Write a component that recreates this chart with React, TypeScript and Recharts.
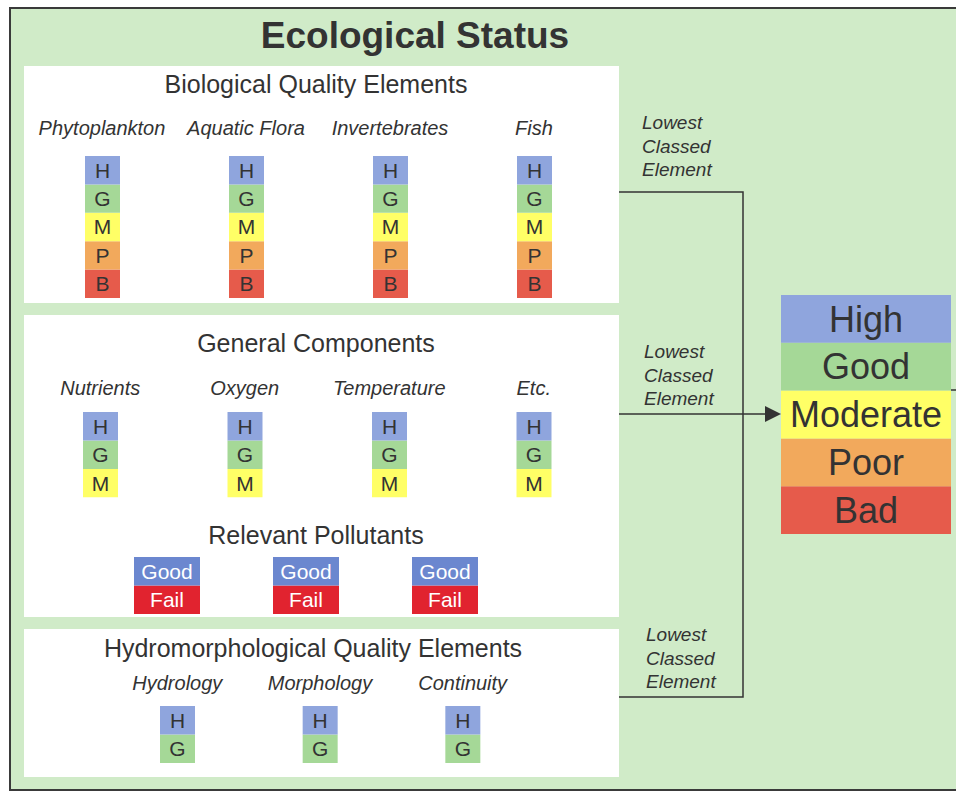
import React from "react";
import { BarChart, Bar, XAxis, YAxis, LabelList } from "recharts";

const FONT = '"Liberation Sans", Arial, Helvetica, sans-serif';
const INK = "#333333";

// text + categories
const title = "Ecological Status";
const bioHeading = "Biological Quality Elements";
const bioElements = ["Phytoplankton", "Aquatic Flora", "Invertebrates", "Fish"];
const bioClasses = ["H", "G", "M", "P", "B"];
const generalHeading = "General Components";
const generalComponents = ["Nutrients", "Oxygen", "Temperature", "Etc."];
const generalClasses = ["H", "G", "M"];
const pollutantHeading = "Relevant Pollutants";
const pollutants = ["Pollutant 1", "Pollutant 2", "Pollutant 3"];
const pollutantClasses = ["Good", "Fail"];
const hydroHeading = "Hydromorphological Quality Elements";
const hydroElements = ["Hydrology", "Morphology", "Continuity"];
const hydroClasses = ["H", "G"];
const statusCategory = ["Ecological Status"];
const statusClasses = ["High", "Good", "Moderate", "Poor", "Bad"];
const connectorText = ["Lowest", "Classed", "Element"];

// every class is one cell of the stack
const cellValue = 1;

const gradeColors = ["#8fa5dd", "#a5d897", "#ffff66", "#f2a95c", "#e65b4b"];
const pollutantColors = ["#6b87cf", "#e1232f"];

function unitRows(names: string[], classes: string[]) {
  return names.map((name) => {
    const row: Record<string, string | number> = { name };
    classes.forEach((c) => (row[c] = cellValue));
    return row;
  });
}

interface StackProps {
  names: string[];
  classes: string[];
  colors: string[];
  left: number;
  top: number;
  width: number;
  cellHeight: number;
  barSize?: number;
  axisHeight?: number;
  labelGap?: number;
  textColor?: string;
  fontSize?: number;
  gap?: number | string;
}

function GradeStack({
  names,
  classes,
  colors,
  left,
  top,
  width,
  cellHeight,
  barSize,
  axisHeight = 0,
  labelGap = 0,
  textColor = INK,
  fontSize = 21,
  gap = "10%",
}: StackProps) {
  const data = unitRows(names, classes);
  const height = cellHeight * classes.length + axisHeight;
  const order = [...classes].reverse();
  return (
    <div style={{ position: "absolute", left, top: top - axisHeight, width, height }}>
      <BarChart
        width={width}
        height={height}
        data={data}
        margin={{ top: 0, right: 0, bottom: 0, left: 0 }}
        barCategoryGap={gap}
      >
        <XAxis
          dataKey="name"
          orientation="top"
          hide={axisHeight === 0}
          height={axisHeight}
          axisLine={false}
          tickLine={false}
          tickSize={0}
          tickMargin={0}
          interval={0}
          tick={(p: any) => (
            <text
              x={p.x}
              y={p.y - labelGap}
              textAnchor="middle"
              dominantBaseline="central"
              fontStyle="italic"
              fontSize={20}
              fill={INK}
              fontFamily={FONT}
            >
              {p.payload.value}
            </text>
          )}
        />
        <YAxis hide type="number" domain={[0, classes.length]} allowDataOverflow />
        {order.map((c) => (
          <Bar
            key={c}
            dataKey={c}
            stackId="s"
            fill={colors[classes.indexOf(c)]}
            barSize={barSize}
            isAnimationActive={false}
          >
            <LabelList
              dataKey={c}
              position="center"
              formatter={() => c}
              fill={textColor}
              fontSize={fontSize}
              fontFamily={FONT}
            />
          </Bar>
        ))}
      </BarChart>
    </div>
  );
}

function Text({
  children,
  cx,
  cy,
  size,
  bold,
}: {
  children: React.ReactNode;
  cx: number;
  cy: number;
  size: number;
  bold?: boolean;
}) {
  const w = 600;
  return (
    <div
      style={{
        position: "absolute",
        left: cx - w / 2,
        top: cy - size * 0.6,
        width: w,
        height: size * 1.2,
        lineHeight: `${size * 1.2}px`,
        textAlign: "center",
        fontSize: size,
        fontWeight: bold ? 700 : 400,
        color: INK,
        whiteSpace: "nowrap",
      }}
    >
      {children}
    </div>
  );
}

function Note({ left, top }: { left: number; top: number }) {
  return (
    <div
      style={{
        position: "absolute",
        left,
        top,
        fontSize: 19,
        lineHeight: "23.5px",
        fontStyle: "italic",
        color: INK,
      }}
    >
      {connectorText.map((t) => (
        <div key={t}>{t}</div>
      ))}
    </div>
  );
}

const panel: React.CSSProperties = { position: "absolute", background: "#ffffff", left: 24, width: 595 };

export default function App() {
  return (
    <div
      style={{
        position: "absolute",
        left: 0,
        top: 0,
        width: 956,
        height: 792,
        overflow: "hidden",
        background: "#ffffff",
        fontFamily: FONT,
      }}
    >
      <div
        style={{
          position: "absolute",
          left: 9,
          top: 7,
          width: 960,
          height: 780,
          background: "#d0ebc8",
          borderLeft: "2px solid #3a3a3a",
          borderTop: "2px solid #3a3a3a",
          borderBottom: "2px solid #3a3a3a",
        }}
      />
      <div style={{ ...panel, top: 66, height: 237 }} />
      <div style={{ ...panel, top: 315, height: 302 }} />
      <div style={{ ...panel, top: 629, height: 148 }} />

      <Text cx={415} cy={36} size={37} bold>
        {title}
      </Text>
      <Text cx={316} cy={84} size={25}>
        {bioHeading}
      </Text>
      <Text cx={316} cy={343} size={25}>
        {generalHeading}
      </Text>
      <Text cx={316} cy={535} size={25}>
        {pollutantHeading}
      </Text>
      <Text cx={313} cy={648} size={25}>
        {hydroHeading}
      </Text>

      <GradeStack
        names={bioElements}
        classes={bioClasses}
        colors={gradeColors}
        left={30}
        top={156}
        width={576}
        cellHeight={28.4}
        barSize={35}
        axisHeight={40}
        labelGap={28}
      />
      <GradeStack
        names={generalComponents}
        classes={generalClasses}
        colors={gradeColors}
        left={28}
        top={412}
        width={578}
        cellHeight={28.5}
        barSize={35}
        axisHeight={40}
        labelGap={24}
      />
      <GradeStack
        names={pollutants}
        classes={pollutantClasses}
        colors={pollutantColors}
        left={97}
        top={557}
        width={417}
        cellHeight={28.5}
        barSize={66}
        textColor="#ffffff"
        fontSize={21}
      />
      <GradeStack
        names={hydroElements}
        classes={hydroClasses}
        colors={gradeColors}
        left={106}
        top={706}
        width={428}
        cellHeight={28.5}
        barSize={35}
        axisHeight={40}
        labelGap={23}
      />
      <GradeStack
        names={statusCategory}
        classes={statusClasses}
        colors={gradeColors}
        left={781}
        top={295}
        width={170}
        cellHeight={47.8}
        fontSize={36}
        gap={0}
      />

      <Note left={642} top={111} />
      <Note left={644} top={340} />
      <Note left={646} top={623} />

      <svg
        width={956}
        height={792}
        style={{ position: "absolute", left: 0, top: 0, pointerEvents: "none" }}
      >
        <g stroke={INK} strokeWidth={1.5} fill="none">
          <path d="M619 192 H743 V697 H619" />
          <path d="M619 414 H767" />
          <path d="M951 390 H956" />
        </g>
        <polygon points="765,406 781,414 765,422" fill={INK} />
      </svg>
    </div>
  );
}
